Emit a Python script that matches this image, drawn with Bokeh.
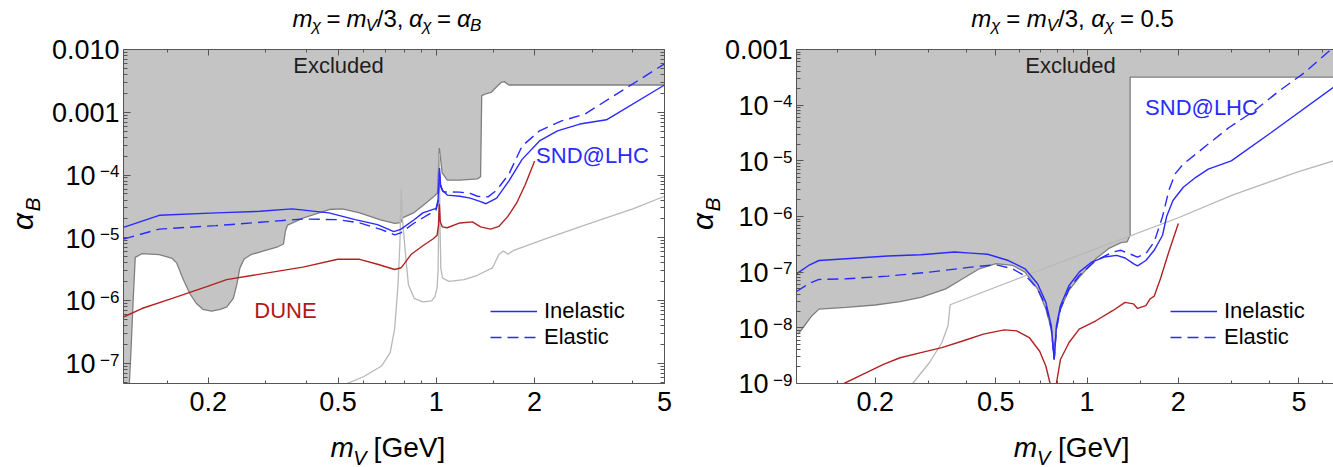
import math
from bokeh.plotting import figure
from bokeh.models import (Range1d, LogAxis, FixedTicker, CustomJSTickFormatter,
                          Label, Legend, LegendItem)
from bokeh.core.properties import value
from bokeh.layouts import row, column
from bokeh.embed import file_html
from bokeh.resources import INLINE

# ---------------------------------------------------------------- data
x_ticks = [0.2, 0.5, 1, 2, 5]
x_minor = [0.15, 0.3, 0.4, 0.6, 0.7, 0.8, 0.9, 1.5, 3, 4, 6]

# ---- left panel: m_chi = m_V/3, alpha_chi = alpha_B
L_yticks = [1e-2, 1e-3, 1e-4, 1e-5, 1e-6, 1e-7]
L_ylabels = ["0.010", "0.001", "10^\u22124", "10^\u22125", "10^\u22126", "10^\u22127"]

L_excl_x = [0.1141, 0.1159, 0.1177, 0.1195, 0.1252, 0.1416, 0.1552, 0.160, 0.1676,
            0.1755, 0.1837, 0.1925, 0.2047, 0.2178, 0.228, 0.2387, 0.2446, 0.25,
            0.2576, 0.27, 0.296, 0.3245, 0.34, 0.345, 0.35, 0.39, 0.469, 0.515,
            0.582, 0.6745, 0.745, 0.777, 0.79, 0.851, 0.93, 0.98, 1.008, 1.021,
            1.042, 1.08, 1.18, 1.336, 1.366, 1.377, 1.41, 1.47, 1.58, 1.615, 1.667, 5.0]
L_excl_y = [3e-8, 1.5e-7, 9.6e-7, 4.9e-6, 5.6e-6, 5.4e-6, 4.7e-6, 4.0e-6, 2.2e-6,
            1.31e-6, 9.1e-7, 7.3e-7, 6.8e-7, 7.3e-7, 8.0e-7, 1.09e-6, 1.8e-6, 3.3e-6,
            4.6e-6, 5.4e-6, 6.2e-6, 7.1e-6, 8.0e-6, 1.3e-5, 1.6e-5, 2.07e-5, 2.83e-5, 2.9e-5,
            2.5e-5, 1.93e-5, 1.7e-5, 1.75e-5, 2.1e-5, 2.5e-5, 3.6e-5, 4.5e-5, 5.2e-5, 2.7e-4,
            1.08e-4, 8.3e-5, 8.3e-5, 8.7e-5, 9.4e-5, 1.84e-3, 1.95e-3, 2.07e-3, 3.0e-3, 3.08e-3,
            2.72e-3, 2.72e-3]

L_gray_x = [0.49, 0.600, 0.679, 0.722, 0.745, 0.763, 0.773, 0.780, 0.787, 0.796, 0.806,
            0.821, 0.855, 0.909, 0.967, 0.99, 1.005, 1.012, 1.018, 1.021, 1.025, 1.032,
            1.044, 1.093, 1.217, 1.335, 1.486, 1.556, 1.606, 1.656, 1.734, 2.2, 3.0, 4.0, 5.0]
L_gray_y = [4.0e-8, 6.2e-8, 9.1e-8, 1.49e-7, 3.56e-7, 1.8e-6, 8e-6, 6.0e-5, 2.0e-5, 1.03e-5,
            4.9e-6, 1.8e-6, 1.09e-6, 9.6e-7, 9.9e-7, 1.16e-6, 1.6e-6, 3e-6, 3e-5, 2.2e-4,
            2e-5, 3.3e-6, 2.3e-6, 2.03e-6, 2.16e-6, 2.54e-6, 3.34e-6, 5.5e-6, 6.2e-6, 5.5e-6,
            6.4e-6, 1.0e-5, 1.75e-5, 2.9e-5, 4.6e-5]

L_dune_x = [0.11, 0.1252, 0.1552, 0.1989, 0.2277, 0.2748, 0.390, 0.499, 0.582, 0.660,
            0.745, 0.78, 0.838, 0.909, 0.976, 1.005, 1.015, 1.021, 1.028, 1.042, 1.08,
            1.18, 1.29, 1.366, 1.465, 1.556, 1.656, 1.762, 1.873, 2.0]
L_dune_y = [5.5e-7, 7.5e-7, 1.09e-6, 1.69e-6, 2.16e-6, 2.54e-6, 3.43e-6, 4.56e-6, 4.56e-6,
            3.8e-6, 3.14e-6, 3.34e-6, 5.5e-6, 7.5e-6, 9.6e-6, 1.1e-5, 1.6e-5, 3.5e-5, 1.8e-5,
            1.5e-5, 1.45e-5, 1.73e-5, 1.8e-5, 1.5e-5, 1.38e-5, 1.53e-5, 2.2e-5, 3.6e-5,
            7.1e-5, 1.67e-4]

L_inel_x = [0.11, 0.1416, 0.2115, 0.288, 0.3615, 0.469, 0.564, 0.66, 0.741, 0.777, 0.853,
            0.909, 0.998, 1.012, 1.022, 1.03, 1.042, 1.08, 1.18, 1.27, 1.366, 1.42, 1.53,
            1.667, 1.831, 2.07, 2.35, 2.75, 3.32, 5.0]
L_inel_y = [1.47e-5, 2.29e-5, 2.5e-5, 2.65e-5, 2.9e-5, 2.5e-5, 1.95e-5, 1.63e-5, 1.26e-5,
            1.37e-5, 1.93e-5, 2.5e-5, 2.96e-5, 4e-5, 1.3e-4, 7e-5, 5.8e-5, 4.8e-5, 4.6e-5,
            4.3e-5, 3.77e-5, 3.5e-5, 4.3e-5, 8.0e-5, 1.78e-4, 3.5e-4, 5.06e-4, 6.5e-4,
            7.6e-4, 2.72e-3]

L_el_x = [0.11, 0.1416, 0.2115, 0.288, 0.39, 0.499, 0.582, 0.679, 0.745, 0.777, 0.853,
          0.998, 1.012, 1.022, 1.032, 1.05, 1.18, 1.27, 1.336, 1.44, 1.53, 1.667, 1.831,
          2.07, 2.42, 2.85, 5.0]
L_el_y = [9.6e-6, 1.38e-5, 1.57e-5, 1.77e-5, 2.0e-5, 1.95e-5, 1.73e-5, 1.35e-5, 1.12e-5,
          1.2e-5, 1.71e-5, 2.78e-5, 3.8e-5, 1.1e-4, 6.5e-5, 5.4e-5, 5.35e-5, 5.1e-5, 4.6e-5,
          4.5e-5, 5.75e-5, 1.03e-4, 2.9e-4, 5.06e-4, 7.3e-4, 9.35e-4, 5.9e-3]

# ---- right panel: m_chi = m_V/3, alpha_chi = 0.5
R_yticks = [1e-3, 1e-4, 1e-5, 1e-6, 1e-7, 1e-8, 1e-9]
R_ylabels = ["0.001", "10^\u22124", "10^\u22125", "10^\u22126", "10^\u22127", "10^\u22128", "10^\u22129"]

R_excl_x = [0.1114, 0.1168, 0.1237, 0.1305, 0.1603, 0.2, 0.2416, 0.283, 0.342, 0.3886,
            0.441, 0.5004, 0.568, 0.6243, 0.6866, 0.7313, 0.762, 0.779, 0.792, 0.817,
            0.8707, 0.9422, 1.069, 1.176, 1.293, 1.355, 1.387, 1.387, 6.5]
R_excl_y = [7.7e-9, 1.09e-8, 1.65e-8, 2.17e-8, 2.33e-8, 2.57e-8, 2.95e-8, 3.53e-8, 5.0e-8,
            7.6e-8, 1.15e-7, 1.42e-7, 1.32e-7, 1.0e-7, 5.0e-8, 2.17e-8, 9.5e-9, 2.7e-9,
            9.5e-9, 2.17e-8, 4.7e-8, 8.1e-8, 1.74e-7, 2.64e-7, 3.4e-7, 3.5e-7, 4.6e-7,
            3.2e-4, 3.2e-4]

R_gray_x = [0.2658, 0.3017, 0.3317, 0.3477, 0.3534, 1.0, 2.0, 3.0, 4.9, 6.5]
R_gray_y = [1.0e-9, 2.36e-9, 5.4e-9, 1.09e-8, 2.6e-8, 2.3e-7, 9.5e-7, 2.4e-6, 6.2e-6, 1.0e-5]

R_dune_x = [0.1578, 0.1819, 0.213, 0.2416, 0.283, 0.3317, 0.3886, 0.455, 0.533, 0.586,
            0.6446, 0.6975, 0.731, 0.755, 0.778, 0.792, 0.817, 0.871, 0.942, 1.069, 1.214,
            1.335, 1.421, 1.467, 1.563, 1.613, 1.665, 1.746, 1.86, 2.0]
R_dune_y = [1.0e-9, 1.46e-9, 2.2e-9, 2.9e-9, 3.58e-9, 4.4e-9, 5.8e-9, 7.7e-9, 9.2e-9, 8.8e-9,
            6.7e-9, 3.8e-9, 2.06e-9, 1.0e-9, 1e-11, 1.0e-9, 2.7e-9, 5.4e-9, 9.5e-9, 1.34e-8,
            2.03e-8, 2.87e-8, 2.7e-8, 2.23e-8, 2.5e-8, 3.3e-8, 3.7e-8, 7.6e-8, 2.3e-7, 7.5e-7]

R_inel_x = [0.11, 0.1206, 0.1305, 0.1603, 0.22, 0.283, 0.365, 0.414, 0.47, 0.55, 0.6243,
            0.6866, 0.7313, 0.762, 0.779, 0.792, 0.817, 0.871, 0.942, 1.036, 1.139, 1.252,
            1.335, 1.421, 1.467, 1.563, 1.665, 1.774, 1.83, 1.92, 2.077, 2.284, 2.51, 2.99,
            4.04, 6.5]
R_inel_y = [9.3e-8, 1.32e-7, 1.62e-7, 1.74e-7, 1.95e-7, 2.06e-7, 2.3e-7, 2.2e-7, 2.1e-7,
            1.62e-7, 1.15e-7, 6.2e-8, 2.87e-8, 1.09e-8, 2.7e-9, 1.09e-8, 2.5e-8, 5.7e-8,
            1.0e-7, 1.52e-7, 1.87e-7, 2.0e-7, 1.8e-7, 1.42e-7, 1.3e-7, 1.62e-7, 2.47e-7,
            4.6e-7, 1.0e-6, 1.94e-6, 3.35e-6, 5.06e-6, 7.1e-6, 1.0e-5, 3.2e-5, 2.1e-4]

R_el_x = [0.11, 0.1206, 0.1305, 0.1603, 0.22, 0.302, 0.414, 0.5, 0.568, 0.634, 0.6866,
          0.731, 0.762, 0.779, 0.792, 0.817, 0.871, 0.942, 1.069, 1.214, 1.293, 1.377,
          1.467, 1.563, 1.665, 1.774, 1.86, 1.95, 2.077, 2.284, 2.51, 2.94, 3.56, 4.3,
          5.2, 6.5]
R_el_y = [4.5e-8, 6.2e-8, 7.4e-8, 7.6e-8, 8.5e-8, 1.0e-7, 1.23e-7, 1.36e-7, 1.15e-7,
          8.1e-8, 5.0e-8, 2.5e-8, 9.5e-9, 2.7e-9, 9.5e-9, 2.2e-8, 5.0e-8, 8.7e-8, 1.62e-7,
          2.3e-7, 2.47e-7, 2.15e-7, 1.87e-7, 2.15e-7, 3.5e-7, 1.0e-6, 2.9e-6, 5.8e-6,
          8.8e-6, 1.32e-5, 2.0e-5, 3.97e-5, 7.9e-5, 1.8e-4, 3.8e-4, 1.1e-3]

# ---------------------------------------------------------------- style / layout constants
FONT = "Liberation Sans"
BLUE = "#2a2aff"
RED = "#b22222"
LGRAY = "#b8b8b8"
FILL = "#c4c4c4"
EDGE = "#7f7f7f"
FRAME = "#555555"
H = 467
TOP, FRAME_H, TICKS_H, XLAB_H = 49, 334, 42, 42
MID = 0.35          # baseline -> vertical middle of text, in em
y_minor = [m * 10.0 ** k for k in range(-11, 0) for m in range(2, 10)]

# approximate advance widths (em) used to compose mixed-style text
W = {'m': 0.833, '\u03c7': 0.5, '\u03b1': 0.565, 'V': 0.667, 'B': 0.667, ' ': 0.278,
     '=': 0.584, '/': 0.278, '3': 0.556, ',': 0.278, '0': 0.556, '.': 0.278, '5': 0.556,
     '[': 0.278, ']': 0.278, 'G': 0.778, 'e': 0.556}


def tw(s, size):
    return sum(W.get(c, 0.556) for c in s) * size


def txt(f, x, y, s, size, italic=False, color="black", align="left", angle=0.0):
    f.text(x=[x], y=[y], text=[s], text_font=value(FONT), text_font_size=value(f"{size}px"),
           text_font_style=value("italic" if italic else "normal"), text_color=color,
           text_align=value(align), text_baseline=value("middle"), angle=angle)


def rich(f, pieces, cx, base_y):
    # base_y: baseline height (px from bottom of the strip)
    total = sum(tw(t, s) for t, s, it, dy in pieces)
    x = cx - total / 2
    for t, s, it, dy in pieces:
        st = t.strip()
        if st:
            lead = tw(t[:len(t) - len(t.lstrip())], s)
            txt(f, x + lead, base_y + dy + MID * s, st, s, italic=it)
        x += tw(t, s)


def text_fig(w, h, xr, yr, ylog=False):
    f = figure(width=w, height=h, x_range=xr, y_range=yr, title=None,
               y_axis_type="log" if ylog else "linear",
               x_axis_location=None, y_axis_location=None,
               output_backend="svg", toolbar_location=None, min_border=0)
    f.outline_line_color = None
    f.background_fill_color = "white"
    f.border_fill_color = "white"
    f.grid.visible = False
    f.xgrid.grid_line_color = None
    f.ygrid.grid_line_color = None
    return f


def style_axis(ax, ticker, show, is_x):
    ax.ticker = ticker
    ax.formatter = CustomJSTickFormatter(code="return String(tick)" if show else "return ''")
    ax.major_tick_in = 6 if is_x else 7
    ax.major_tick_out = 0
    ax.minor_tick_in = 3 if is_x else 4
    ax.minor_tick_out = 0
    ax.axis_line_color = FRAME
    ax.major_tick_line_color = FRAME
    ax.minor_tick_line_color = FRAME
    ax.major_label_text_font = FONT
    ax.major_label_text_color = "black"
    if show:
        ax.major_label_text_font_size = "27px"
        ax.major_label_standoff = 8
    else:
        ax.major_label_text_font_size = "0px"
        ax.major_label_standoff = 0


def make_panel(width, bl, br, xr, yr, right_axis, yticks, ylabels, title_pieces, tcx, xcx,
               ex_x, ex_y, g_x, g_y, d_x, d_y, i_x, i_y, e_x, e_y):
    SW = bl - 2                 # width of left text strip
    PW = width - SW             # width of plot column
    ppd = FRAME_H / math.log10(yr[1] / yr[0])

    def y_at(page_y):           # page pixel row -> value on this panel's y scale
        return yr[1] * 10 ** (-(page_y - TOP) / ppd)

    # ---------------- main plot
    p = figure(width=PW, height=4 + FRAME_H + TICKS_H, x_axis_type="log", y_axis_type="log",
               x_range=Range1d(*xr), y_range=Range1d(*yr), title=None,
               output_backend="svg", toolbar_location=None,
               min_border_left=2, min_border_right=br, min_border_top=4,
               min_border_bottom=TICKS_H)
    p.grid.visible = False
    p.outline_line_color = None
    p.background_fill_color = "white"
    p.border_fill_color = "white"
    style_axis(p.xaxis[0], FixedTicker(ticks=x_ticks, minor_ticks=x_minor), True, True)
    style_axis(p.yaxis[0], FixedTicker(ticks=yticks, minor_ticks=y_minor), False, False)
    top = LogAxis()
    style_axis(top, FixedTicker(ticks=x_ticks, minor_ticks=x_minor), False, True)
    p.add_layout(top, "above")
    if right_axis:
        ra = LogAxis()
        style_axis(ra, FixedTicker(ticks=yticks, minor_ticks=y_minor), False, False)
        p.add_layout(ra, "right")

    px = [xr[0] * 0.9] + ex_x + [xr[1] * 1.2, xr[1] * 1.2, xr[0] * 0.9]
    py = [ex_y[0]] + ex_y + [ex_y[-1], yr[1] * 10, yr[1] * 10]
    p.patch(px, py, fill_color=FILL, line_color=None)
    p.line(ex_x, ex_y, line_color=EDGE, line_width=1.3)
    p.line(g_x, g_y, line_color=LGRAY, line_width=1.3)
    p.line(d_x, d_y, line_color=RED, line_width=1.4)
    r_el = p.line(e_x, e_y, line_color=BLUE, line_width=1.4, line_dash="11 6")
    r_in = p.line(i_x, i_y, line_color=BLUE, line_width=1.4)

    leg = Legend(items=[LegendItem(label="Inelastic", renderers=[r_in]),
                        LegendItem(label="Elastic", renderers=[r_el])],
                 background_fill_alpha=0, border_line_alpha=0, padding=0, margin=0,
                 spacing=0, glyph_width=47, glyph_height=24, label_height=24,
                 label_standoff=7, label_text_font=FONT, label_text_font_size="22px",
                 label_text_color="black")
    p.add_layout(leg)

    # ---------------- left strip: y tick labels and y axis title
    strip = text_fig(SW, H, Range1d(0, SW), Range1d(y_at(H), y_at(0)), ylog=True)
    for t, s in zip(yticks, ylabels):
        if "^" in s:
            base, ex = s.split("^")
            txt(strip, bl - 4, t * 10 ** ((MID * 17 - 2) / ppd), ex, 17, align="right")
            txt(strip, bl - 28, t * 10 ** ((MID * 27 - 9.7) / ppd), base, 27, align="right")
        else:
            txt(strip, bl - 4, t * 10 ** ((MID * 27 - 9.7) / ppd), s, 27, align="right")
    txt(strip, 32 - MID * 30, y_at(221), "\u03b1", 30, italic=True, align="center",
        angle=math.pi / 2)
    txt(strip, 39 - MID * 21, y_at(204), "B", 21, italic=True, align="center",
        angle=math.pi / 2)

    # ---------------- title strip
    th = TOP - 4
    tfig = text_fig(PW, th, Range1d(0, PW), Range1d(0, th))
    rich(tfig, title_pieces, tcx - SW, th - 26)

    # ---------------- x axis title strip
    xfig = text_fig(PW, XLAB_H, Range1d(0, PW), Range1d(0, XLAB_H))
    rich(xfig, [("m", 28, True, 0), ("V", 20, True, -7), (" [GeV]", 28, False, 0)],
         xcx - SW, XLAB_H - (457 - (TOP + FRAME_H + TICKS_H)))

    return p, leg, row(strip, column(tfig, p, xfig))


def add_lab(p, text, x, base_y, size, color):
    # base_y: baseline height above the frame bottom (px)
    p.add_layout(Label(x=x, y=base_y + MID * size, x_units="screen", y_units="screen",
                       text=text, text_font=FONT, text_font_size=f"{size}px",
                       text_color=color, text_align="center", text_baseline="middle"))


T1 = [("m", 24, True, 0), ("\u03c7", 17, True, -5), (" = ", 24, False, 0),
      ("m", 24, True, 0), ("V", 17, True, -5), ("/3,", 24, False, 0),
      (" \u03b1", 24, True, 0), ("\u03c7", 17, True, -5), (" = ", 24, False, 0),
      ("\u03b1", 24, True, 0), ("B", 17, True, -5)]
T2 = [("m", 24, True, 0), ("\u03c7", 17, True, -5), (" = ", 24, False, 0),
      ("m", 24, True, 0), ("V", 17, True, -5), ("/3,", 24, False, 0),
      (" \u03b1", 24, True, 0), ("\u03c7", 17, True, -5), (" = 0.5", 24, False, 0)]

# ---------------------------------------------------------------- left panel
p1, leg1, panel1 = make_panel(680, 123, 16, (0.11, 5.0), (4.8e-8, 1e-2), True,
                              L_yticks, L_ylabels, T1, 393, 393,
                              L_excl_x, L_excl_y, L_gray_x, L_gray_y, L_dune_x, L_dune_y,
                              L_inel_x, L_inel_y, L_el_x, L_el_y)
leg1.location = (367, 33)
add_lab(p1, "Excluded", 215, 310, 22, "#1e1e1e")
add_lab(p1, "SND@LHC", 469, 220, 22, BLUE)
add_lab(p1, "DUNE", 162, 65, 22, "#b01818")

# ---------------------------------------------------------------- right panel
p2, leg2, panel2 = make_panel(653, 116, 0, (0.11, 6.5), (1e-9, 1e-3), False,
                              R_yticks, R_ylabels, T2, 1071 - 680, 1070 - 680,
                              R_excl_x, R_excl_y, R_gray_x, R_gray_y, R_dune_x, R_dune_y,
                              R_inel_x, R_inel_y, R_el_x, R_el_y)
leg2.location = (374, 33)
add_lab(p2, "Excluded", 274, 310, 22, "#1e1e1e")
add_lab(p2, "SND@LHC", 405, 268, 22, BLUE)

layout = row(panel1, panel2)
open("out.html", "w").write(file_html(layout, INLINE))
